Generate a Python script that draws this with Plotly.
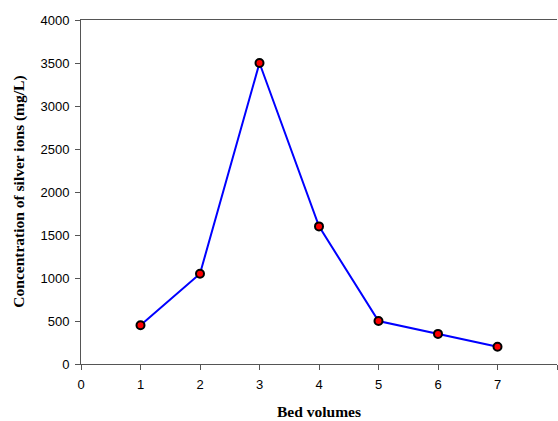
import plotly.graph_objects as go

bed_volumes = [1, 2, 3, 4, 5, 6, 7]
silver_conc = [450, 1050, 3500, 1600, 500, 350, 200]
x_ticks = [0, 1, 2, 3, 4, 5, 6, 7, 8]
x_tick_labels = ["0", "1", "2", "3", "4", "5", "6", "7", ""]
y_ticks = [0, 500, 1000, 1500, 2000, 2500, 3000, 3500, 4000]

fig = go.Figure()
fig.add_trace(go.Scatter(
    x=bed_volumes, y=silver_conc, mode="lines+markers",
    line=dict(color="#0000ff", width=2),
    marker=dict(color="#ff0000", size=8, line=dict(color="black", width=2)),
    cliponaxis=False, showlegend=False,
))

axis_color = "#555555"
fig.update_layout(
    width=558, height=421,
    margin=dict(l=81, r=1, t=20, b=57),
    paper_bgcolor="white", plot_bgcolor="white",
    font=dict(family="Liberation Sans, Arial", size=13, color="black"),
    xaxis=dict(
        range=[0, 8], tickvals=x_ticks, ticktext=x_tick_labels,
        showline=True, linecolor=axis_color, linewidth=1, mirror=True,
        ticks="outside", ticklen=5, tickcolor=axis_color, ticklabelstandoff=3,
        showgrid=False, zeroline=False,
    ),
    yaxis=dict(
        range=[0, 4000], tickvals=y_ticks,
        showline=True, linecolor=axis_color, linewidth=1,
        ticks="outside", ticklen=5, tickcolor=axis_color, ticklabelstandoff=3,
        showgrid=False, zeroline=False,
    ),
    annotations=[
        dict(text="<b>Bed volumes</b>", xref="paper", yref="paper",
             x=0.5, y=-0.138, yanchor="middle", xanchor="center", showarrow=False,
             font=dict(family="Liberation Serif, Times New Roman", size=15.5)),
        dict(text="<b>Concentration of silver ions (mg/L)</b>", xref="paper", yref="paper",
             x=-0.131, y=0.5, xanchor="center", yanchor="middle", showarrow=False, textangle=-90,
             font=dict(family="Liberation Serif, Times New Roman", size=15.5)),
    ],
)

fig.write_html("out.html", config={"displayModeBar": False},
               post_script="document.body.style.margin='0';document.body.style.overflow='hidden';")
